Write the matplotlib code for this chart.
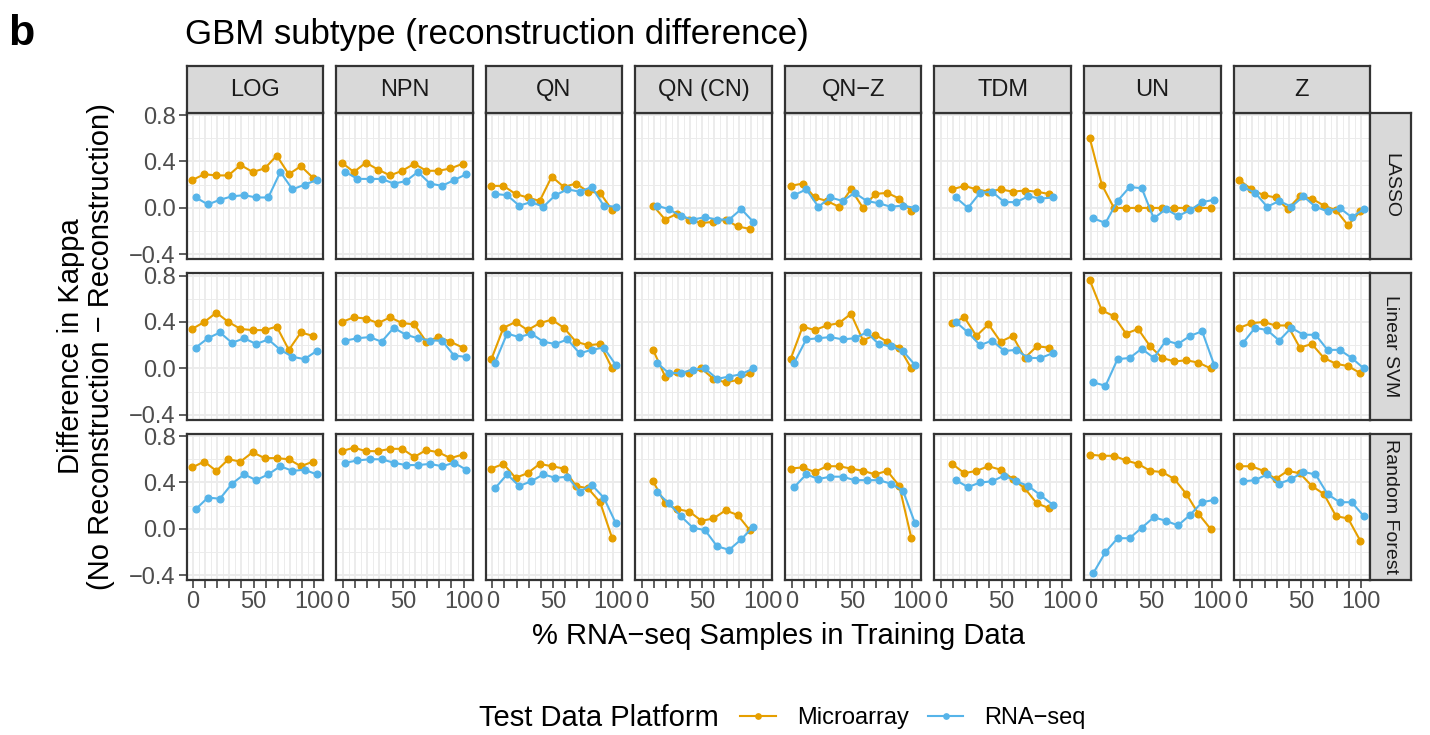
import matplotlib
matplotlib.use("Agg")
import matplotlib.pyplot as plt
from matplotlib.ticker import FixedLocator

plt.rcParams["font.family"] = ["Liberation Sans", "DejaVu Sans"]

# =========================
# DATA
# =========================
norms = ["LOG", "NPN", "QN", "QN (CN)", "QN\u2212Z", "TDM", "UN", "Z"]
classifiers = ["LASSO", "Linear SVM", "Random Forest"]
x_full = [0, 10, 20, 30, 40, 50, 60, 70, 80, 90, 100]
x_mid = [10, 20, 30, 40, 50, 60, 70, 80, 90]   # QN (CN) and TDM
short_norms = ["QN (CN)", "TDM"]

lasso_micro = {
    "LOG": [0.24, 0.29, 0.28, 0.28, 0.37, 0.31, 0.34, 0.45, 0.29, 0.36, 0.26],
    "NPN": [0.39, 0.31, 0.39, 0.33, 0.28, 0.32, 0.38, 0.32, 0.32, 0.34, 0.38],
    "QN": [0.19, 0.19, 0.12, 0.09, 0.06, 0.27, 0.18, 0.21, 0.14, 0.13, -0.02],
    "QN (CN)": [0.02, -0.10, -0.05, -0.10, -0.13, -0.12, -0.10, -0.16, -0.18],
    "QN\u2212Z": [0.19, 0.21, 0.09, 0.06, 0.01, 0.16, 0.00, 0.12, 0.13, 0.08, -0.03],
    "TDM": [0.16, 0.19, 0.16, 0.14, 0.16, 0.14, 0.15, 0.14, 0.12],
    "UN": [0.60, 0.20, 0.00, 0.00, 0.00, 0.00, 0.00, 0.00, 0.00, 0.00, 0.00],
    "Z": [0.24, 0.16, 0.11, 0.09, -0.01, 0.10, 0.08, 0.02, -0.02, -0.15, -0.03],
}
lasso_rna = {
    "LOG": [0.09, 0.03, 0.07, 0.10, 0.11, 0.09, 0.09, 0.31, 0.16, 0.20, 0.24],
    "NPN": [0.31, 0.25, 0.25, 0.25, 0.21, 0.23, 0.31, 0.21, 0.19, 0.24, 0.29],
    "QN": [0.12, 0.11, 0.02, 0.05, 0.01, 0.11, 0.16, 0.14, 0.18, 0.02, 0.01],
    "QN (CN)": [0.02, -0.01, -0.07, -0.10, -0.08, -0.10, -0.10, -0.01, -0.12],
    "QN\u2212Z": [0.11, 0.16, 0.01, 0.09, 0.06, 0.13, 0.06, 0.04, 0.01, 0.02, 0.00],
    "TDM": [0.09, 0.00, 0.13, 0.14, 0.05, 0.05, 0.10, 0.08, 0.09],
    "UN": [-0.09, -0.13, 0.06, 0.18, 0.17, -0.09, -0.01, -0.07, -0.02, 0.05, 0.07],
    "Z": [0.18, 0.13, 0.01, 0.06, 0.01, 0.10, 0.01, -0.03, 0.00, -0.08, -0.01],
}
svm_micro = {
    "LOG": [0.34, 0.40, 0.48, 0.40, 0.34, 0.33, 0.33, 0.36, 0.16, 0.31, 0.28],
    "NPN": [0.40, 0.44, 0.43, 0.39, 0.44, 0.39, 0.38, 0.23, 0.27, 0.23, 0.18],
    "QN": [0.08, 0.35, 0.40, 0.33, 0.39, 0.42, 0.35, 0.23, 0.20, 0.21, 0.00],
    "QN (CN)": [0.16, -0.07, -0.03, -0.04, 0.00, -0.09, -0.12, -0.10, -0.04],
    "QN\u2212Z": [0.08, 0.36, 0.33, 0.37, 0.39, 0.47, 0.24, 0.29, 0.23, 0.18, 0.00],
    "TDM": [0.39, 0.44, 0.28, 0.38, 0.23, 0.28, 0.09, 0.19, 0.18],
    "UN": [0.76, 0.50, 0.45, 0.30, 0.34, 0.19, 0.09, 0.06, 0.07, 0.05, 0.00],
    "Z": [0.35, 0.39, 0.40, 0.37, 0.37, 0.18, 0.21, 0.09, 0.04, 0.02, -0.04],
}
svm_rna = {
    "LOG": [0.18, 0.26, 0.31, 0.22, 0.26, 0.21, 0.25, 0.16, 0.10, 0.08, 0.15],
    "NPN": [0.24, 0.26, 0.27, 0.23, 0.35, 0.29, 0.26, 0.24, 0.24, 0.11, 0.10],
    "QN": [0.05, 0.30, 0.27, 0.30, 0.23, 0.21, 0.25, 0.13, 0.16, 0.18, 0.03],
    "QN (CN)": [0.05, -0.04, -0.04, -0.01, 0.00, -0.09, -0.07, -0.05, 0.00],
    "QN\u2212Z": [0.05, 0.25, 0.26, 0.27, 0.25, 0.26, 0.31, 0.21, 0.19, 0.15, 0.03],
    "TDM": [0.40, 0.31, 0.20, 0.24, 0.15, 0.16, 0.09, 0.09, 0.13],
    "UN": [-0.12, -0.15, 0.08, 0.09, 0.17, 0.09, 0.24, 0.21, 0.28, 0.32, 0.03],
    "Z": [0.22, 0.35, 0.33, 0.24, 0.35, 0.29, 0.29, 0.16, 0.16, 0.09, 0.00],
}
rf_micro = {
    "LOG": [0.53, 0.58, 0.50, 0.60, 0.58, 0.66, 0.61, 0.61, 0.60, 0.54, 0.58],
    "NPN": [0.67, 0.70, 0.67, 0.67, 0.69, 0.69, 0.62, 0.68, 0.66, 0.61, 0.64],
    "QN": [0.52, 0.56, 0.44, 0.48, 0.56, 0.54, 0.52, 0.37, 0.35, 0.23, -0.08],
    "QN (CN)": [0.41, 0.22, 0.17, 0.15, 0.07, 0.09, 0.16, 0.12, -0.01],
    "QN\u2212Z": [0.52, 0.53, 0.49, 0.54, 0.54, 0.52, 0.50, 0.47, 0.50, 0.37, -0.08],
    "TDM": [0.56, 0.48, 0.50, 0.54, 0.51, 0.43, 0.35, 0.22, 0.18],
    "UN": [0.64, 0.63, 0.63, 0.59, 0.56, 0.50, 0.49, 0.43, 0.30, 0.13, 0.00],
    "Z": [0.54, 0.54, 0.50, 0.43, 0.50, 0.48, 0.37, 0.30, 0.11, 0.09, -0.10],
}
rf_rna = {
    "LOG": [0.17, 0.27, 0.26, 0.39, 0.47, 0.42, 0.47, 0.54, 0.50, 0.51, 0.47],
    "NPN": [0.57, 0.59, 0.60, 0.60, 0.57, 0.55, 0.55, 0.56, 0.54, 0.57, 0.51],
    "QN": [0.35, 0.47, 0.37, 0.41, 0.47, 0.44, 0.45, 0.32, 0.38, 0.27, 0.05],
    "QN (CN)": [0.32, 0.22, 0.11, 0.01, -0.01, -0.15, -0.18, -0.09, 0.02],
    "QN\u2212Z": [0.36, 0.47, 0.43, 0.45, 0.45, 0.42, 0.42, 0.42, 0.39, 0.33, 0.05],
    "TDM": [0.42, 0.36, 0.40, 0.41, 0.46, 0.41, 0.37, 0.29, 0.21],
    "UN": [-0.38, -0.20, -0.08, -0.08, 0.01, 0.10, 0.07, 0.03, 0.12, 0.23, 0.25],
    "Z": [0.41, 0.42, 0.47, 0.39, 0.43, 0.49, 0.47, 0.30, 0.23, 0.23, 0.11],
}

micro_by_clf = [lasso_micro, svm_micro, rf_micro]
rna_by_clf = [lasso_rna, svm_rna, rf_rna]

y_ticks = [-0.4, 0.0, 0.4, 0.8]
y_ticklabels = ["\u22120.4", "0.0", "0.4", "0.8"]

# =========================
# STYLE / LAYOUT (pixels)
# =========================
W, H = 1430, 735
COL_MICRO = "#E69F00"
COL_RNA = "#56B4E9"
DARK = "#333333"
GRID = "#EBEBEB"
STRIP = "#D9D9D9"

PANEL_L0 = 186.5
PANEL_PITCH = 149.6
PANEL_W = 136.5
ROW_T0 = 112.5
ROW_PITCH = 160.5
PANEL_H = 146.5
STRIP_H = 47
RSTRIP_W = 41

OFF_MICRO, OFF_RNA = -0.8, 2.2   # small dodge between platforms


def box(left, top, w, h):
    return [left / W, 1 - (top + h) / H, w / W, h / H]


def style_frame(a):
    for s in a.spines.values():
        s.set_color(DARK)
        s.set_linewidth(1.6)


fig = plt.figure(figsize=(W / 100, H / 100), dpi=100)

handles = []
for r, clf in enumerate(classifiers):
    top = ROW_T0 + r * ROW_PITCH
    for c, norm in enumerate(norms):
        left = PANEL_L0 + c * PANEL_PITCH
        ax = fig.add_axes(box(left, top, PANEL_W, PANEL_H))
        ax.set_xlim(-5.5, 107.5)
        ax.set_ylim(-0.44, 0.822)

        # grid: majors every 10 / 0.4, minors in between
        ax.xaxis.set_major_locator(FixedLocator(x_full))
        ax.xaxis.set_minor_locator(FixedLocator([v + 5 for v in x_full[:-1]]))
        ax.yaxis.set_major_locator(FixedLocator(y_ticks))
        ax.yaxis.set_minor_locator(FixedLocator([-0.2, 0.2, 0.6]))
        ax.grid(True, which="major", color=GRID, lw=1.3)
        ax.grid(True, which="minor", color=GRID, lw=0.65)
        ax.set_axisbelow(True)

        xs = x_mid if norm in short_norms else x_full
        l1, = ax.plot([v + OFF_MICRO for v in xs], micro_by_clf[r][norm],
                      color=COL_MICRO, lw=1.5, marker="o", ms=4.8, zorder=3)
        l2, = ax.plot([v + OFF_RNA for v in xs], rna_by_clf[r][norm],
                      color=COL_RNA, lw=1.5, marker="o", ms=4.8, zorder=3)
        if not handles:
            handles = [l1, l2]

        style_frame(ax)
        ax.tick_params(which="minor", length=0)
        ax.tick_params(which="major", length=5.5, width=1.1, color=DARK,
                       labelcolor="#4D4D4D", labelsize=17, pad=2.5)
        if c == 0:
            ax.set_yticklabels(y_ticklabels)
        else:
            ax.tick_params(axis="y", length=0, labelleft=False)
        if r == 2:
            ax.set_xticklabels([str(v) if v in (0, 50, 100) else "" for v in x_full])
        else:
            ax.tick_params(axis="x", length=0, labelbottom=False)

        # top strips
        if r == 0:
            sax = fig.add_axes(box(left, top - STRIP_H, PANEL_W, STRIP_H))
            sax.set_facecolor(STRIP)
            sax.set_xticks([])
            sax.set_yticks([])
            style_frame(sax)
            sax.text(0.5, 0.47, norm, ha="center", va="center", fontsize=17,
                     color="#1A1A1A", transform=sax.transAxes)

        # right strips
        if c == len(norms) - 1:
            sax = fig.add_axes(box(left + PANEL_W, top, RSTRIP_W, PANEL_H))
            sax.set_facecolor(STRIP)
            sax.set_xticks([])
            sax.set_yticks([])
            style_frame(sax)
            sax.text(0.5, 0.5, clf, ha="center", va="center", rotation=-90,
                     fontsize=14, color="#1A1A1A", transform=sax.transAxes)

# =========================
# TITLES / LABELS / LEGEND
# =========================
panels_mid = PANEL_L0 + (7 * PANEL_PITCH + PANEL_W) / 2
rows_mid = ROW_T0 + (2 * ROW_PITCH + PANEL_H) / 2

fig.text(8 / W, 1 - 45 / H, "b", fontsize=31, fontweight="bold", va="baseline")
fig.text(185 / W, 1 - 44 / H, "GBM subtype (reconstruction difference)",
         fontsize=25, va="baseline")

fig.text(86 / W, 1 - rows_mid / H,
         "Difference in Kappa\n(No Reconstruction \u2212 Reconstruction)",
         fontsize=21, rotation=90, ha="center", va="center",
         multialignment="center", linespacing=1.05)
fig.text(panels_mid / W, 1 - 636 / H, "% RNA\u2212seq Samples in Training Data",
         fontsize=21, ha="center", va="center")

fig.text(479 / W, 1 - 718 / H, "Test Data Platform", fontsize=21,
         ha="left", va="center")
fig.legend(handles, ["Microarray", "RNA\u2212seq"], loc="center left",
           bbox_to_anchor=(731 / W, 1 - 718 / H), ncol=2, frameon=False,
           fontsize=17, handlelength=1.5, handletextpad=0.9,
           columnspacing=0.8, borderaxespad=0, markerscale=0.8)

fig.savefig("out.png", dpi=100)
